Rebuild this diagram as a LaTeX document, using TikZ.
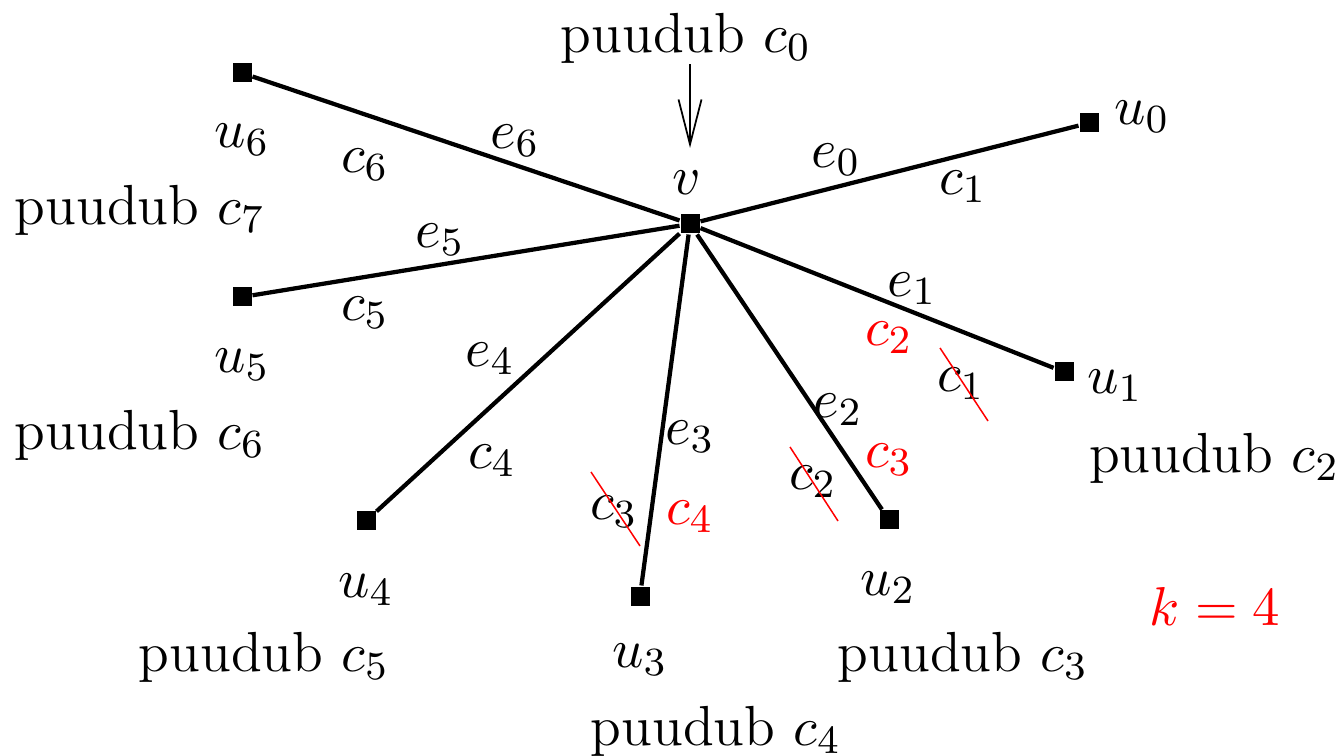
\documentclass[tikz,border=0pt]{standalone}
\usetikzlibrary{arrows.meta}
\begin{document}
\begin{tikzpicture}[x=0.2pt,y=-0.2pt,
  every node/.style={font=\fontsize{11.3}{14}\selectfont, inner sep=0pt},
  vert/.style={fill=black, minimum size=3.8pt, inner sep=0pt, rectangle},
  edge/.style={line width=0.85pt},
  redlbl/.style={text=red},
  strike/.style={red, line width=0.3pt},
  ptr/.style={line width=0.35pt, -{Straight Barb[length=9pt,width=4.6pt]}}]
\useasboundingbox (0,0) rectangle (1341,756);
% vertices
\node[vert] (v) at (690,224) {};
\node[vert] (u0) at (1089,123) {};
\node[vert] (u1) at (1064,372) {};
\node[vert] (u2) at (889,520) {};
\node[vert] (u3) at (640,596) {};
\node[vert] (u4) at (366,521) {};
\node[vert] (u5) at (242,297) {};
\node[vert] (u6) at (242,73) {};
% edges
\foreach \u in {u0,u1,u2,u3,u4,u5,u6} \draw[edge] (v) -- (\u);
% top label and arrow
\node (top) at (686,38) {puudub $c_0$};
\node (vl) at (687,183) {$v$};
\coordinate (arrend) at (690,148);
\draw[ptr] (top.south -| arrend) -- (arrend);
% vertex labels
\node (l0) at (1142,117) {$u_0$};
\node (l1) at (1115,386) {$u_1$};
\node (l2) at (888,588) {$u_2$};
\node (l3) at (640,660) {$u_3$};
\node (l4) at (366,590) {$u_4$};
\node (l5) at (242,365) {$u_5$};
\node (l6) at (242,140) {$u_6$};
% puudub labels
\node[anchor=west] (p2) at (1088,458) {puudub $c_2$};
\node (p3) at (963,657) {puudub $c_3$};
\node (p4) at (716,731) {puudub $c_4$};
\node (p5) at (264,657) {puudub $c_5$};
\node (p6) at (140,435) {puudub $c_6$};
\node (p7) at (140,210) {puudub $c_7$};
% edge labels
\node (e0) at (836,160) {$e_0$};
\node (c01) at (963,187) {$c_1$};
\node (e1) at (912,289) {$e_1$};
\node[redlbl] (c12) at (889,338) {$c_2$};
\node (c11) at (961,384) {$c_1$};
\node (e2) at (838,410) {$e_2$};
\node[redlbl] (c23) at (889,460) {$c_3$};
\node (c22) at (813,482) {$c_2$};
\node (e3) at (690,437) {$e_3$};
\node[redlbl] (c34) at (690,517) {$c_4$};
\node (c33) at (614,512) {$c_3$};
\node (e4) at (490,359) {$e_4$};
\node (c44) at (492,461) {$c_4$};
\node (e5) at (440,240) {$e_5$};
\node (c55) at (365,313) {$c_5$};
\node (e6) at (515,141) {$e_6$};
\node (c66) at (365,165) {$c_6$};
% strikes
\coordinate (s1a) at (940,348); \coordinate (s1b) at (988,421);
\coordinate (s2a) at (790,447); \coordinate (s2b) at (838,521);
\coordinate (s3a) at (591,472); \coordinate (s3b) at (640,546);
\draw[strike] (s1a) -- (s1b);
\draw[strike] (s2a) -- (s2b);
\draw[strike] (s3a) -- (s3b);
% k
\node[redlbl] (k) at (1215,606) {$k=4$};
\end{tikzpicture}
\end{document}
